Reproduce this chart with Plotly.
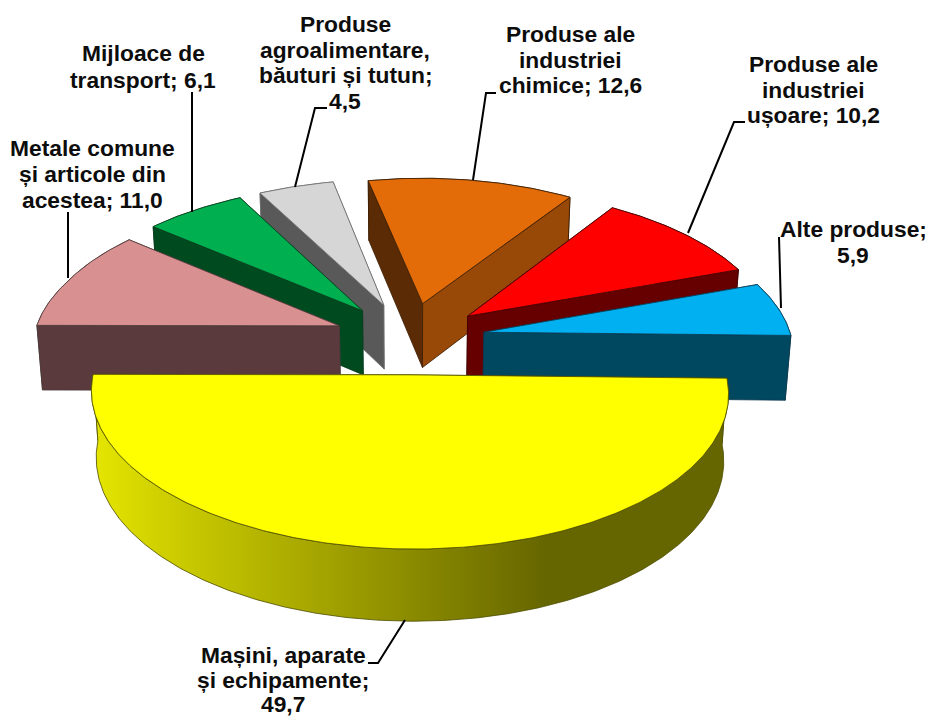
import math
import plotly.graph_objects as go

# ---- data ----
categories = [["Mașini, aparate", "și echipamente;"], ["Metale comune", "și articole din", "acestea;"],
              ["Mijloace de", "transport;"], ["Produse", "agroalimentare,", "băuturi și tutun;"],
              ["Produse ale", "industriei", "chimice;"], ["Produse ale", "industriei", "ușoare;"],
              ["Alte produse;"]]
value_on_own_line = [True, False, False, True, False, False, True]
values = [49.7, 11.0, 6.1, 4.5, 12.6, 10.2, 5.9]

# ---- style ----
top_colors = ["#FFFF00", "#D99090", "#00B050", "#D6D6D6", "#E36C09", "#FF0000", "#00B0F0"]
start_wall = ["#666600", "#5A3A3C", "#004A20", "#595959", "#5A2B04", "#660000", "#004760"]
end_wall = ["#666600", "#5A3A3C", "#004A20", "#595959", "#984807", "#660000", "#004760"]
edge_colors = ["#4d4d00", "#4a3a3a", "#0b3d20", "#6e6e6e", "#3a1d02", "#400000", "#0c3a50"]
paint_order = [4, 3, 5, 2, 6, 1, 0]
label_pos = [(283, 655), (92, 148), (143, 53), (345, 24), (570, 34), (813, 64), (853, 229)]
line_gap = [24.5, 26, 26.5, 25.5, 25.5, 25.5, 26]
leaders = [[(368, 663), (378, 663), (405, 620)], [(68, 212), (68, 278)], [(192, 92), (192, 212)],
           [(327, 108), (315, 108), (295, 187)], [(496, 93), (486, 93), (473, 180)],
           [(745, 122), (734, 122), (688, 233)], [(779, 237), (781, 308)]]

# ---- projection of the tilted pie ----
CX, CY, RX, RY, PERSP, DEPTH, EXPLODE, ROLL, SHRINK = 410, 338, 308, 146.3, 0.11, 65, 0.245, 0.006, 0.985
START = 0.55
BACK_LEFT_SHIFT = 7


def clip01(v):
    return max(0.0, min(1.0, v))


def project(X, Y, bottom=False, on_rim=False):
    w = 1 + PERSP * Y
    dx, dy = RX * X / w, -RY * Y / w
    dy += ROLL * dx
    if on_rim:
        dx += BACK_LEFT_SHIFT * clip01((0.6 - X) / 0.8) * clip01((Y + 0.2) / 0.6)
    if bottom:
        return CX + dx * SHRINK, CY + dy * SHRINK + DEPTH / w
    return CX + dx, CY + dy


def polygon(fig, pts, fill, edge, gradient=None):
    xs = [p[0] for p in pts] + [pts[0][0]]
    ys = [p[1] for p in pts] + [pts[0][1]]
    kw = dict(x=xs, y=ys, mode="lines", fill="toself", line=dict(color=edge, width=0.8),
              hoverinfo="skip", showlegend=False)
    if gradient:
        kw["fillgradient"] = gradient
    else:
        kw["fillcolor"] = fill
    fig.add_trace(go.Scatter(**kw))


fig = go.Figure()
total = sum(values)
angles = []
a = START
for v in values:
    angles.append((a, a + v / total * 360))
    a += v / total * 360

for i in paint_order:
    t0, t1 = angles[i]
    mid = math.radians((t0 + t1) / 2)
    ax, ay = EXPLODE * math.cos(mid), -EXPLODE * math.sin(mid)
    n = max(8, int((t1 - t0) * 1.5))
    rim = [(ax + math.cos(math.radians(t0 + (t1 - t0) * k / n)),
            ay - math.sin(math.radians(t0 + (t1 - t0) * k / n))) for k in range(n + 1)]
    top_rim = [project(*p, on_rim=True) for p in rim]
    bot_rim = [project(*p, bottom=True, on_rim=True) for p in rim]
    apex_top, apex_bot = project(ax, ay), project(ax, ay, bottom=True)

    faces = [
        ([apex_top, top_rim[0], bot_rim[0], apex_bot], start_wall[i], None),
        ([apex_top, top_rim[-1], bot_rim[-1], apex_bot], end_wall[i], None),
    ]
    grad = None
    if i == 0:
        grad = dict(type="horizontal", start=92, stop=545,
                    colorscale=[[0, "#E6E600"], [0.15, "#D0D000"], [1, "#666600"]])
    faces.append((top_rim + bot_rim[::-1], start_wall[i], grad))
    faces.sort(key=lambda f: sum(p[1] for p in f[0]) / len(f[0]))
    for pts, col, g in faces:
        polygon(fig, pts, col, edge_colors[i], g)
    polygon(fig, [apex_top] + top_rim, top_colors[i], edge_colors[i])

for pts in leaders:
    fig.add_trace(go.Scatter(x=[p[0] for p in pts], y=[p[1] for p in pts], mode="lines",
                             line=dict(color="#000000", width=2), hoverinfo="skip", showlegend=False))

for lines, own, v, (x, y), gap in zip(categories, value_on_own_line, values, label_pos, line_gap):
    val = f"{v:.1f}".replace(".", ",")
    rows = lines + [val] if own else lines[:-1] + [f"{lines[-1]} {val}"]
    for k, row in enumerate(rows):
        fig.add_annotation(x=x, y=y + k * gap, xref="x", yref="y", showarrow=False, xanchor="center",
                           yanchor="middle", align="center", text=f"<b>{row}</b>",
                           font=dict(family="Liberation Sans", size=22.8, color="#0d0d0d"))

fig.update_layout(width=930, height=716, margin=dict(l=0, r=0, t=0, b=0), paper_bgcolor="white",
                  plot_bgcolor="white", showlegend=False,
                  xaxis=dict(range=[0, 930], visible=False, fixedrange=True),
                  yaxis=dict(range=[716, 0], visible=False, fixedrange=True))
fig.write_html("out.html", config={"displayModeBar": False},
               post_script="document.body.style.margin='0';document.body.style.overflow='hidden';")
